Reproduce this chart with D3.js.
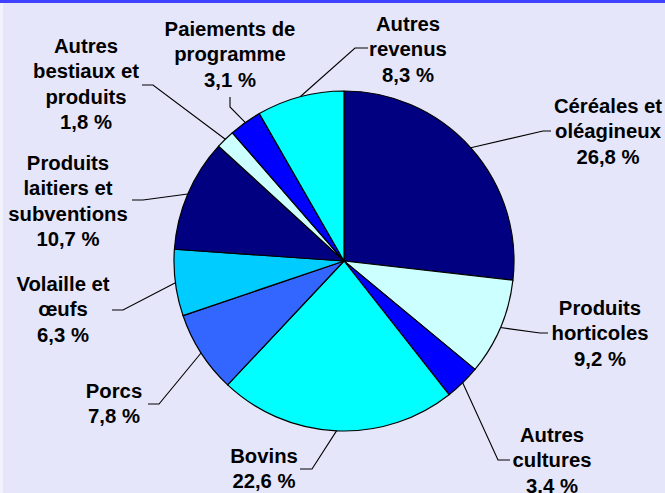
<!DOCTYPE html>
<html>
<head>
<meta charset="utf-8">
<script src="https://cdn.jsdelivr.net/npm/d3@7"></script>
<style>
  body { margin: 0; background: #e6e6fa; }
  .label { font-family: "Liberation Sans", Arial, sans-serif; font-weight: bold; font-size: 20.3px; fill: #000; }
</style>
</head>
<body>
<div class="canvas"></div>
<script>
// Data
const categories = [
    ['Céréales et', 'oléagineux'],
    ['Produits', 'horticoles'],
    ['Autres', 'cultures'],
    ['Bovins'],
    ['Porcs'],
    ['Volaille et', 'œufs'],
    ['Produits', 'laitiers et', 'subventions'],
    ['Autres', 'bestiaux et', 'produits'],
    ['Paiements de', 'programme'],
    ['Autres', 'revenus']
];
const values = [26.8, 9.2, 3.4, 22.6, 7.8, 6.3, 10.7, 1.8, 3.1, 8.3];
const colors = ['#000080', '#ccffff', '#0000ff', '#00ffff', '#3366ff',
                '#00ccff', '#000080', '#ccffff', '#0000ff', '#00ffff'];

// Label layout: text centre x, first baseline y, leader bend and end
const labelLayout = [
    {x: 608, y: 113, bend: [543, 131], end: [551, 131]},
    {x: 600, y: 315, bend: [540, 333], end: [548, 333]},
    {x: 552, y: 442, bend: [498, 460], end: [510, 460]},
    {x: 264, y: 463, bend: [312, 469], end: [300, 469]},
    {x: 114, y: 398, bend: [159, 404], end: [148, 404]},
    {x: 63, y: 291, bend: [123, 310], end: [112, 310]},
    {x: 68, y: 170, bend: [143, 200], end: [132, 200]},
    {x: 86, y: 53, bend: [153, 85], end: [142, 85]},
    {x: 230, y: 36, bend: [230, 107], end: [230, 97]},
    {x: 408, y: 31, bend: [355, 48], end: [368, 48]}
];

const width = 665;
const height = 493;
const radius = 170;
const cx = 344;
const cy = 261;
const lineHeight = 25.3;

const svg = d3.select('.canvas')
    .append('svg')
    .attr('width', width)
    .attr('height', height)
    .style('display', 'block');

// Background and frame
svg.append('rect')
    .attr('width', width)
    .attr('height', height)
    .attr('fill', '#e6e6fa');

svg.append('rect')
    .attr('width', 3)
    .attr('height', height)
    .attr('fill', '#f2f2fd');

svg.append('rect')
    .attr('width', width)
    .attr('height', 3)
    .attr('fill', '#4040ff');

const graph = svg.append('g')
    .attr('transform', `translate(${cx}, ${cy})`);

const pie = d3.pie().sort(null).value(d => d);
const arcs = pie(values);

const arc = d3.arc()
    .innerRadius(0)
    .outerRadius(radius);

graph.selectAll('path.slice')
    .data(arcs)
    .enter()
    .append('path')
    .attr('class', 'slice')
    .attr('d', arc)
    .attr('fill', (d, i) => colors[i])
    .attr('stroke', '#000')
    .attr('stroke-width', 1.2)
    .attr('stroke-linejoin', 'round');

// Leader lines from slice edge (mid angle) to label
const edgePoint = d => {
    const a = (d.startAngle + d.endAngle) / 2;
    return [cx + radius * Math.sin(a), cy - radius * Math.cos(a)];
};

svg.selectAll('polyline.leader')
    .data(arcs)
    .enter()
    .append('polyline')
    .attr('class', 'leader')
    .attr('fill', 'none')
    .attr('stroke', '#000')
    .attr('stroke-width', 1.1)
    .attr('points', (d, i) => {
        const p = edgePoint(d);
        const l = labelLayout[i];
        return [p, l.bend, l.end].map(q => q.join(',')).join(' ');
    });

// Labels
const fmt = v => d3.format('.1f')(v).replace('.', ',') + ' %';

const labels = svg.selectAll('text.label')
    .data(arcs)
    .enter()
    .append('text')
    .attr('class', 'label')
    .attr('text-anchor', 'middle');

labels.each(function(d, i) {
    const t = d3.select(this);
    const l = labelLayout[i];
    const lines = categories[i].concat([fmt(values[i])]);
    lines.forEach((s, j) => {
        t.append('tspan')
            .attr('x', l.x)
            .attr('y', l.y + j * lineHeight)
            .text(s);
    });
});
</script>
</body>
</html>
